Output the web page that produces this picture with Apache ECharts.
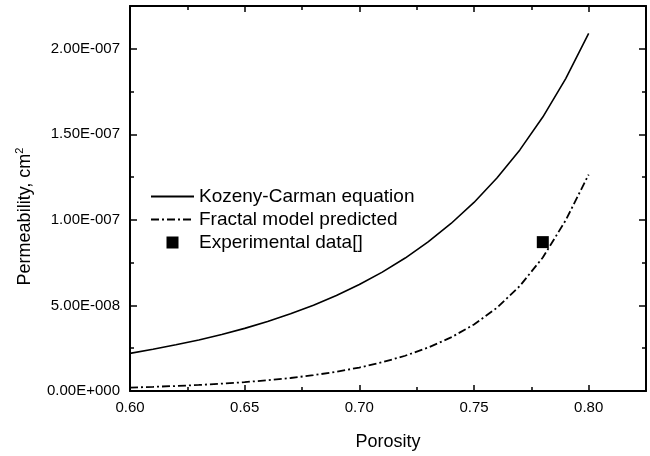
<!DOCTYPE html>
<html>
<head>
<meta charset="utf-8">
<script src="https://cdn.jsdelivr.net/npm/echarts@6/dist/echarts.min.js"></script>
<style>html,body{margin:0;padding:0;background:#fff;}#c{width:650px;height:456px;}</style>
</head>
<body>
<div id="c"></div>
<script>
const porosity = [0.60,0.61,0.62,0.63,0.64,0.65,0.66,0.67,0.68,0.69,0.70,0.71,0.72,0.73,0.74,0.75,0.76,0.77,0.78,0.79,0.80];
const kozenyCarman = [2.20e-8,2.44e-8,2.70e-8,2.98e-8,3.30e-8,3.66e-8,4.06e-8,4.51e-8,5.01e-8,5.58e-8,6.22e-8,6.95e-8,7.77e-8,8.71e-8,9.79e-8,1.102e-7,1.245e-7,1.409e-7,1.601e-7,1.826e-7,2.09e-7];
const fractal = [2.0e-9,2.42e-9,2.92e-9,3.53e-9,4.28e-9,5.18e-9,6.27e-9,7.60e-9,9.25e-9,1.125e-8,1.37e-8,1.68e-8,2.06e-8,2.54e-8,3.13e-8,3.89e-8,4.86e-8,6.14e-8,7.80e-8,9.98e-8,1.265e-7];
const expPorosity = [0.78];
const expPermeability = [8.7e-8];
const seriesNames = ['Kozeny-Carman equation','Fractal model predicted','Experimental data[]'];

const FONT = 'Liberation Sans, Arial, Helvetica, sans-serif';
function sci(v){
  if (Math.abs(v) < 1e-20) return '0.00E+000';
  const parts = v.toExponential(2).split('e');
  const n = parseInt(parts[1],10);
  return parts[0] + 'E' + (n<0?'-':'+') + String(Math.abs(n)).padStart(3,'0');
}
const X_MIN=0.6, X_MAX=0.825, Y_MIN=0, Y_MAX=2.25e-7;
function xAx(pos, major, labels){
  return {
    type:'value', min:X_MIN, max:X_MAX, interval: major?0.05:0.025, position:pos,
    axisLine:{show:major, onZero:false, lineStyle:{color:'#000', width:2}},
    axisTick:{show:true, inside:true, length: major?6:4, lineStyle:{color:'#000', width:1.5}},
    axisLabel:{show:labels, showMaxLabel:false, formatter:v=>v.toFixed(2), margin:9, fontSize:15, color:'#000', fontFamily:FONT},
    splitLine:{show:false},
    name: labels ? 'Porosity' : '', nameLocation:'middle', nameGap:42,
    nameTextStyle:{fontSize:18, color:'#000', fontFamily:FONT}
  };
}
function yAx(pos, major, labels){
  return {
    type:'value', min:Y_MIN, max:Y_MAX, interval: major?5e-8:2.5e-8, position:pos,
    axisLine:{show:major, onZero:false, lineStyle:{color:'#000', width:2}},
    axisTick:{show:true, inside:true, length: major?7:4, lineStyle:{color:'#000', width:1.5}},
    axisLabel:{show:labels, showMaxLabel:false, formatter:sci, margin:10, fontSize:15, color:'#000', fontFamily:FONT},
    splitLine:{show:false},
    name: labels ? 'Permeability, cm{sup|2}' : '', nameLocation:'middle', nameGap:93,
    nameTextStyle:{fontSize:18, color:'#000', fontFamily:FONT, lineHeight:22, padding:[0,36,0,0],
      rich:{sup:{fontSize:11, lineHeight:11, verticalAlign:'top', color:'#000', fontFamily:FONT}}}
  };
}
const chart = echarts.init(document.getElementById('c'), null, {renderer:'canvas'});
chart.setOption({
  animation:false,
  backgroundColor:'#fff',
  grid:{left:130, right:4, top:6, bottom:61, containLabel:false},
  xAxis:[xAx('bottom',true,true), xAx('bottom',false,false), xAx('top',true,false), xAx('top',false,false)],
  yAxis:[yAx('left',true,true), yAx('left',false,false), yAx('right',true,false), yAx('right',false,false)],
  legend:{
    orient:'vertical', left:145, top:182, itemWidth:43, itemHeight:12, itemGap:4,
    selectedMode:false, symbolKeepAspect:true,
    textStyle:{fontSize:19, color:'#000', fontFamily:FONT},
    data:[
      {name:seriesNames[0], itemStyle:{opacity:0}},
      {name:seriesNames[1], itemStyle:{opacity:0}},
      {name:seriesNames[2], icon:'path://M0,0H10V10H0Z', itemStyle:{opacity:1, color:'#000'}}
    ]
  },
  series:[
    {name:seriesNames[0], type:'line', xAxisIndex:0, yAxisIndex:0, symbol:'none', showSymbol:false,
     lineStyle:{color:'#000', width:1.6}, itemStyle:{color:'#000'},
     data: porosity.map((p,i)=>[p, kozenyCarman[i]])},
    {name:seriesNames[1], type:'line', xAxisIndex:0, yAxisIndex:0, symbol:'none', showSymbol:false,
     lineStyle:{color:'#000', width:1.8, type:[8,3,2,3]}, itemStyle:{color:'#000'},
     data: porosity.map((p,i)=>[p, fractal[i]])},
    {name:seriesNames[2], type:'scatter', xAxisIndex:0, yAxisIndex:0, symbol:'rect', symbolSize:12,
     itemStyle:{color:'#000', opacity:1},
     data: expPorosity.map((p,i)=>[p, expPermeability[i]])}
  ]
});
</script>
</body>
</html>
